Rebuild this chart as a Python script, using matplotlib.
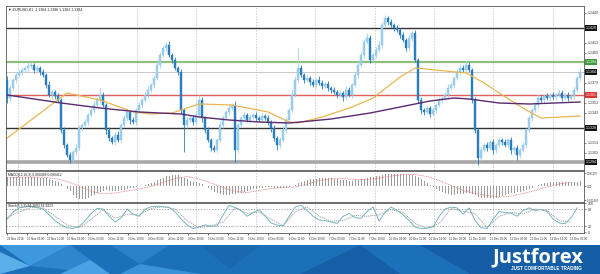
import matplotlib
matplotlib.use('Agg')
import matplotlib.pyplot as plt
from matplotlib.patches import Polygon
import numpy as np

plt.rcParams['font.family'] = ['Liberation Sans', 'DejaVu Sans']

# EURUSD H1, prices given as pips above BASE
BASE = 1.1300
first_open = 76
closes = [58, 68, 76, 81, 84, 86, 88, 90, 91, 86, 88, 84,
          81, 71, 61, 64, 60, 56, 26, 11, 1, -4, 4, 8,
          28, 31, 34, 41, 46, 51, 56, 61, 51, 26, 18, 14,
          21, 16, 31, 38, 44, 36, 34, 46, 51, 56, 61, 66,
          71, 78, 91, 101, 108, 111, 101, 96, 88, 84, 46, 31,
          36, 38, 34, 41, 56, 38, 26, 16, 8, 6, 16, 31,
          38, 44, 48, 51, 6, 31, 38, 41, 36, 39, 41, 38,
          36, 40, 38, 34, 28, 18, 11, 16, 26, 36, 46, 61,
          76, 88, 81, 76, 78, 74, 71, 76, 73, 70, 72, 68,
          66, 64, 61, 63, 59, 66, 61, 71, 81, 91, 101, 114,
          118, 96, 101, 106, 111, 131, 138, 134, 131, 128, 126, 121,
          116, 108, 118, 123, 96, 56, 46, 44, 48, 42, 46, 51,
          56, 58, 61, 68, 71, 78, 84, 88, 86, 91, 86, 56,
          26, -2, 6, 11, 8, 14, 6, 11, 16, 14, 11, 16,
          6, 8, 1, 6, 11, 26, 38, 46, 51, 58, 56, 60,
          58, 61, 59, 61, 63, 58, 61, 58, 60, 66, 78, 84]
upper_wick = [4, 3, 2, 3, 2, 3, 2, 4, 3, 2, 3, 2,
              3, 2, 4, 3, 2, 3, 2, 3, 2, 3, 2, 4,
              3, 2, 3, 2, 3, 4, 3, 7, 3, 2, 3, 2,
              3, 4, 2, 3, 4, 2, 3, 2, 3, 2, 3, 4,
              2, 3, 4, 3, 2, 3, 4, 2, 3, 2, 3, 2,
              3, 2, 3, 4, 5, 3, 2, 3, 2, 3, 2, 4,
              3, 2, 3, 2, 4, 3, 2, 3, 2, 3, 2, 3,
              2, 3, 2, 3, 2, 3, 2, 3, 4, 3, 2, 5,
              4, 20, 3, 2, 3, 2, 3, 2, 4, 3, 2, 3,
              2, 3, 2, 3, 2, 4, 3, 2, 3, 4, 3, 3,
              5, 3, 2, 3, 4, 3, 3, 2, 3, 2, 3, 2,
              3, 2, 3, 2, 3, 2, 3, 2, 3, 2, 3, 2,
              3, 2, 3, 4, 3, 2, 3, 4, 3, 5, 3, 2,
              3, 2, 3, 2, 3, 2, 3, 2, 3, 2, 3, 2,
              3, 2, 3, 2, 3, 2, 3, 2, 3, 4, 3, 2,
              3, 2, 3, 2, 4, 3, 2, 3, 2, 3, 2, 4]
lower_wick = [5, 3, 2, 3, 2, 3, 2, 3, 2, 3, 2, 3,
              2, 3, 2, 4, 3, 2, 3, 3, 2, 3, 4, 3,
              2, 3, 2, 3, 2, 3, 2, 3, 2, 4, 3, 2,
              3, 2, 3, 2, 3, 4, 2, 3, 2, 3, 2, 3,
              2, 3, 2, 3, 2, 3, 2, 3, 2, 3, 4, 27,
              3, 2, 3, 2, 3, 4, 3, 2, 3, 2, 3, 2,
              3, 2, 3, 2, 12, 3, 2, 3, 2, 3, 2, 3,
              2, 3, 2, 3, 4, 3, 5, 3, 2, 3, 2, 3,
              2, 3, 2, 3, 2, 3, 2, 3, 2, 3, 2, 3,
              3, 2, 3, 2, 4, 3, 2, 3, 2, 3, 2, 3,
              2, 3, 2, 3, 2, 3, 2, 3, 2, 3, 2, 3,
              2, 3, 2, 3, 2, 3, 4, 3, 2, 3, 2, 3,
              2, 3, 2, 3, 2, 3, 2, 3, 2, 3, 2, 3,
              3, 7, 3, 2, 3, 2, 4, 3, 2, 3, 2, 3,
              4, 3, 5, 3, 2, 3, 2, 3, 2, 3, 2, 3,
              2, 3, 2, 3, 2, 3, 2, 3, 2, 3, 2, 3]

# moving averages (vertices: bar index, pips)
orange_idx = [0, 19, 20, 31, 42, 48, 55, 64, 75, 87, 94, 97, 105, 115, 122, 131, 136, 153, 159, 164, 173, 178, 191]
orange_val = [18, 61, 63, 56, 44, 42, 43, 52, 51, 44, 34, 33, 39, 49, 58, 79, 88, 83, 73, 63, 46, 38, 40]
purple_idx = [0, 18, 31, 44, 58, 64, 74, 84, 94, 108, 121, 131, 141, 149, 154, 164, 174, 191]
purple_val = [61, 53, 48, 44, 42, 39, 36, 34, 33, 37, 43, 49, 55, 58, 57, 53, 52, 54]

# horizontal levels (pips) and colours
level_vals = [128, 94, 61, 28, -6]
level_cols = ['#333333', '#8fbf7f', '#e06060', '#333333', '#a8a8a8']
level_box = ['#111111', '#3f9a3f', '#e03030', '#111111', '#111111']
level_lw = [1.0, 1.6, 1.0, 1.0, 2.6]
current_price = 84
price_ticks = [143, 133, 123, 113, 103, 93, 83, 73, 63, 53, 43, 33, 23, 13, 3]

# MACD(12,26,9), units of 1e-5
macd = [88, 90, 92, 93, 94, 94, 93, 92, 90, 88, 86, 84,
        82, 78, 72, 64, 55, 45, 25, 0, -25, -50, -90, -115,
        -128, -130, -125, -115, -100, -85, -70, -55, -45, -40, -45, -50,
        -50, -48, -42, -35, -28, -22, -16, -10, -4, 5, 15, 25,
        35, 45, 58, 72, 85, 97, 105, 110, 110, 106, 95, 80,
        66, 55, 45, 38, 32, 20, 5, -15, -35, -55, -70, -80,
        -85, -88, -85, -78, -75, -72, -65, -55, -45, -38, -30, -25,
        -20, -16, -14, -12, -12, -15, -20, -22, -20, -15, -8, 2,
        15, 32, 45, 55, 62, 68, 72, 75, 78, 80, 80, 79,
        77, 74, 70, 65, 60, 57, 55, 54, 56, 60, 66, 75,
        84, 88, 92, 96, 100, 108, 116, 120, 122, 122, 121, 120,
        118, 114, 112, 112, 105, 90, 70, 50, 32, 15, -5, -25,
        -45, -60, -72, -80, -85, -86, -84, -80, -77, -74, -72, -78,
        -90, -105, -115, -120, -122, -120, -118, -115, -110, -100, -90, -80,
        -72, -65, -60, -55, -50, -40, -28, -15, -3, 10, 20, 28,
        33, 37, 40, 42, 43, 44, 44, 43, 42, 42, 45, 50]
signal_step = 4
macd_signal = [80, 86, 90, 87, 75, 45, 0, -55, -80, -70, -50, -30,
               -5, 35, 75, 95, 70, 30, -15, -55, -65, -45, -25, -15,
               -10, 20, 55, 72, 75, 65, 65, 80, 100, 115, 115, 95,
               55, 5, -45, -75, -95, -112, -100, -75, -45, -10, 20, 38]
macd_ticks = [0.001297, 0.0, -0.001402]
macd_tick_labels = ['0.001297', '0.00', '-0.001402']

# Stochastic(5,3,3)
stoch_step = 2
stoch_main = [45, 70, 84, 88, 90, 85, 80, 60, 39, 25, 15, 13,
              20, 40, 65, 82, 80, 55, 35, 50, 80, 62, 55, 80,
              88, 90, 88, 86, 70, 45, 25, 12, 18, 25, 20, 22,
              60, 93, 85, 75, 55, 68, 77, 55, 32, 24, 22, 55,
              87, 93, 75, 55, 42, 40, 35, 30, 55, 65, 50, 48,
              72, 87, 38, 70, 87, 75, 60, 40, 18, 12, 14, 18,
              55, 80, 87, 84, 62, 84, 40, 15, 13, 45, 71, 68,
              66, 55, 75, 84, 75, 78, 72, 45, 32, 29, 50, 84]
stoch_sig_step = 4
stoch_signal = [50, 70, 86, 84, 55, 25, 15, 45, 78, 48, 62, 60,
                82, 88, 80, 40, 15, 22, 35, 85, 65, 70, 45, 22,
                70, 88, 55, 38, 40, 58, 55, 60, 78, 68, 30, 13,
                30, 82, 72, 65, 15, 55, 68, 63, 80, 75, 40, 35]
stoch_ticks = [100, 80, 20, 0]

date_labels = ['29 Nov 2018', '30 Nov 03:00', '30 Nov 11:00', '30 Nov 19:00',
               '3 Dec 03:00', '3 Dec 11:00', '3 Dec 19:00', '4 Dec 03:00',
               '4 Dec 11:00', '4 Dec 19:00', '5 Dec 03:00', '5 Dec 11:00',
               '5 Dec 19:00', '6 Dec 03:00', '6 Dec 11:00', '6 Dec 19:00',
               '7 Dec 03:00', '7 Dec 11:00', '7 Dec 19:00', '10 Dec 03:00',
               '10 Dec 11:00', '10 Dec 19:00', '11 Dec 03:00', '11 Dec 11:00',
               '11 Dec 19:00', '12 Dec 03:00', '12 Dec 11:00', '12 Dec 19:00',
               '13 Dec 03:00']

title = '\u25bc EURUSD,H1  1.1384 1.1386 1.1381 1.1384'
macd_title = 'MACD(12,26,9) 0.000498 0.000412'
stoch_title = 'Stoch(5,3,3) 84.1003 64.9823'

W, H = 600, 274
small = 2.6


def px_box(top, bottom, left=6, right=584):
    return [left / W, 1 - bottom / H, (right - left) / W, (bottom - top) / H]


def p(v):
    return BASE + np.asarray(v, dtype=float) / 1e4


fig = plt.figure(figsize=(W / 100, H / 100), dpi=100)
fig.patch.set_facecolor('white')
ax = fig.add_axes(px_box(6, 170))
ax_m = fig.add_axes(px_box(171, 202))
ax_s = fig.add_axes(px_box(203, 233))

n = len(closes)
xs = np.arange(n)
closes_a = np.array(closes, dtype=float)
opens_a = np.r_[first_open, closes_a[:-1]]
tops = np.maximum(opens_a, closes_a)
bots = np.minimum(opens_a, closes_a)
highs = tops + np.array(upper_wick)
lows = bots - np.array(lower_wick)
up = closes_a >= opens_a

bull, bear = '#a3d2ee', '#2a7dbd'
grid_x = 3.7 + 19.8 * np.arange(10)

for a in (ax, ax_m, ax_s):
    a.set_xlim(-0.4, n + 0.3)
    for gx in grid_x:
        a.axvline(gx, color='#b8b8b8', lw=0.5, ls=(0, (2, 2)), zorder=0)
    for s in a.spines.values():
        s.set_color('#555555')
        s.set_linewidth(0.6)
    a.yaxis.tick_right()
    a.tick_params(axis='y', labelsize=small, length=1.5, width=0.4, pad=1.0, colors='#333333')
    a.tick_params(axis='x', length=0)
    a.set_xticks([])

# main chart
ax.set_ylim(p(-14), p(150))
for v, c, lw in zip(level_vals, level_cols, level_lw):
    ax.axhline(p(v), color=c, lw=lw, zorder=1)
ax.axhline(p(current_price), color='#c8c8c8', lw=0.7, zorder=1)

col = np.where(up, bull, bear)
ax.vlines(xs, p(lows), p(highs), colors=col, lw=0.6, zorder=2)
ax.bar(xs, p(np.maximum(tops - bots, 0.4)) - BASE, bottom=p(bots), width=0.62,
       color=col, edgecolor=np.where(up, '#7dbde3', bear), linewidth=0.3, zorder=3)

ax.plot(orange_idx, p(orange_val), color='#e9b552', lw=0.9, zorder=4)
ax.plot(purple_idx, p(purple_val), color='#5a2a72', lw=1.0, zorder=4)

boxes = level_vals + [current_price]
box_cols = level_box + ['#111111']
shown = [t for t in price_ticks if min(abs(t - b) for b in boxes) > 5]
ax.set_yticks(p(shown))
ax.set_yticklabels([f'{BASE + t / 1e4:.4f}' for t in shown])
for v, c in zip(boxes, box_cols):
    ax.text(1.003, p(v), f'{BASE + v / 1e4:.4f}', transform=ax.get_yaxis_transform(),
            fontsize=small, color='white', va='center', ha='left', clip_on=False,
            bbox=dict(boxstyle='square,pad=0.2', fc=c, ec='none'))
ax.text(0.003, 0.988, title, transform=ax.transAxes, fontsize=small, va='top', ha='left',
        color='#222222')

# MACD
macd_a = np.array(macd) * 1e-5
ax_m.set_ylim(-160e-5, 150e-5)
ax_m.bar(xs, macd_a, width=0.32, color='#9c9c9c', zorder=2)
sig_x = np.arange(len(macd_signal)) * signal_step
ax_m.plot(sig_x, np.array(macd_signal) * 1e-5, color='#e07070', lw=0.6, ls=(0, (1, 1)), zorder=3)
ax_m.set_yticks(macd_ticks)
ax_m.set_yticklabels(macd_tick_labels)
ax_m.tick_params(axis='y', labelsize=1.9, pad=0.6)
ax_m.text(0.003, 0.95, macd_title, transform=ax_m.transAxes, fontsize=2.4, va='top', ha='left',
          color='#222222')

# Stochastic
ax_s.set_ylim(-3, 101)
for lv in (80, 20):
    ax_s.axhline(lv, color='#909090', lw=0.5, ls=(0, (2, 2)), zorder=1)
ax_s.plot(np.arange(len(stoch_main)) * stoch_step, stoch_main, color='#79b4bf', lw=0.7, zorder=3)
ax_s.plot(np.arange(len(stoch_signal)) * stoch_sig_step, stoch_signal, color='#9a9a9a', lw=0.6,
          ls=(0, (1.5, 1)), zorder=2)
ax_s.set_yticks(stoch_ticks)
ax_s.set_yticklabels([str(t) for t in stoch_ticks])
ax_s.text(0.003, 0.95, stoch_title, transform=ax_s.transAxes, fontsize=2.4, va='top', ha='left',
          color='#222222')

label_pos = np.arange(len(date_labels)) * 6.7
ax_s.set_xticks(label_pos)
ax_s.set_xticklabels(date_labels, fontsize=2.1, color='#333333')
ax_s.tick_params(axis='x', length=1.5, width=0.4, pad=1.2)
for lab in ax_s.get_xticklabels():
    lab.set_ha('left')

# banner
bn = fig.add_axes([0, 0, 1, 29 / H])
bn.set_xlim(0, W)
bn.set_ylim(0, 29)
bn.axis('off')
bn.add_patch(Polygon([[0, 0], [W, 0], [W, 29], [0, 29]], fc='#1c6fb9', ec='none'))
facets = [
    ([[0, 29], [70, 29], [30, 8]], '#3d98de'),
    ([[0, 0], [30, 8], [0, 22]], '#5aaeea'),
    ([[30, 8], [70, 29], [110, 0]], '#2f86cf'),
    ([[60, 0], [110, 0], [90, 14]], '#4aa2e4'),
    ([[110, 29], [170, 29], [140, 10]], '#2a80c9'),
    ([[140, 10], [200, 0], [120, 0]], '#3a92d8'),
    ([[200, 29], [260, 29], [230, 5]], '#1a68b0'),
    ([[300, 0], [360, 29], [400, 0]], '#155fa6'),
    ([[420, 29], [600, 29], [600, 0], [470, 0]], '#155ea5'),
]
for pts, c in facets:
    bn.add_patch(Polygon(pts, fc=c, ec='none'))
bn.text(583, 12, 'Justforex', color='white', fontsize=14.5, fontweight='bold',
        family='Open Sans', ha='right', va='baseline')
bn.text(582, 3.5, 'JUST COMFORTABLE TRADING', color='white', fontsize=3.3, fontweight='bold',
        ha='right', va='baseline')

fig.savefig('out.png', dpi=100, facecolor='white')
